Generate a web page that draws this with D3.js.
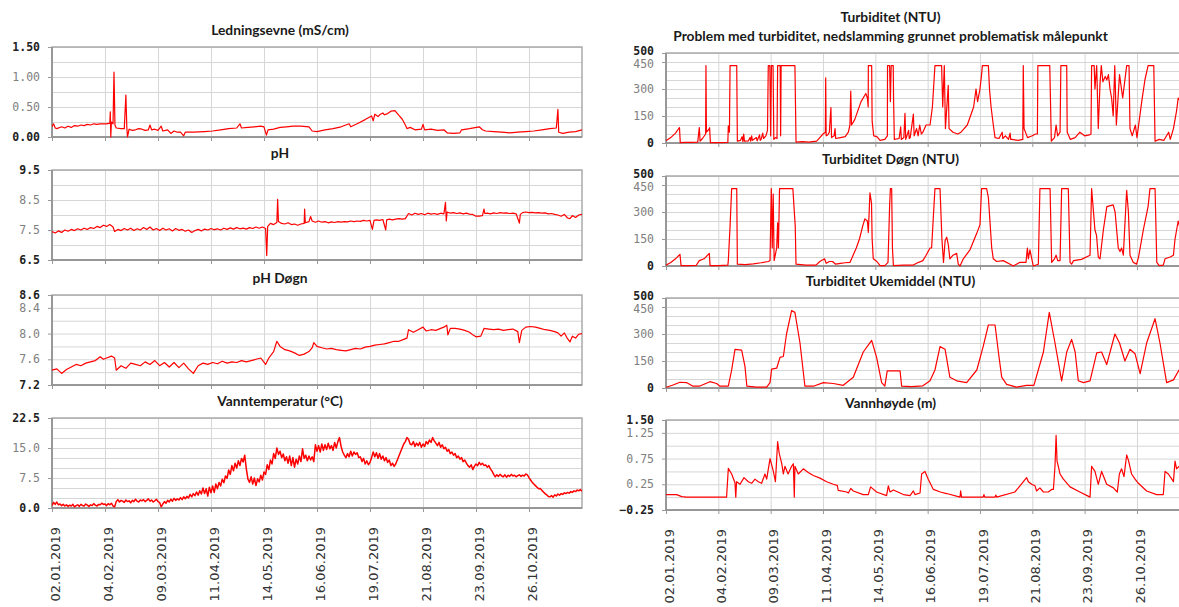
<!DOCTYPE html>
<meta charset="utf-8">
<style>
body { margin: 0; background: #fff; }
svg { display: block; }
.title { font: bold 13.8px Lato, sans-serif; fill: #1a1a1a; text-anchor: middle; }
.grid line { stroke: #d6d6d6; stroke-width: 1px; }
.grid path { stroke: none; }
.ylab text { font-family: "DejaVu Sans Mono", monospace; font-size: 11.5px; fill: #808080; }
.ylab text.end { font-weight: bold; fill: #222; }
.ylab line, .xtick line { stroke: #999; }
.ylab path, .xtick path { stroke: none; }
.dates text { font: 13px "DejaVu Sans", sans-serif; fill: #333; }
.dates line, .dates path { stroke: none; }
.frame { fill: none; stroke: #aaa; stroke-width: 1.5px; }
.axisline { stroke: #8c8c8c; stroke-width: 1.5px; }
.series { fill: none; stroke: #ff0000; stroke-width: 1.2px; stroke-linejoin: round; }
</style>
<body>
<script src="https://cdnjs.cloudflare.com/ajax/libs/d3/7.8.5/d3.min.js"></script>
<script>

// date labels on the x axis (every 33 days from 02.01.2019)
var tickLabels = ["02.01.2019","04.02.2019","09.03.2019","11.04.2019","14.05.2019",
                  "16.06.2019","19.07.2019","21.08.2019","23.09.2019","26.10.2019"];
var lastDay = 330; // days after 02.01.2019 shown at right edge

// y tick labels per chart
var ledTicks  = [0, 0.5, 1.0, 1.5];
var phTicks   = [6.5, 7.5, 8.5, 9.5];
var phDTicks  = [7.2, 7.6, 8.0, 8.4, 8.6];
var tempTicks = [0, 7.5, 15, 22.5];
var turbTicks = [0, 150, 300, 450, 500];
var vhTicks   = [-0.25, 0.25, 0.75, 1.25, 1.5];

// series: [day after 02.01.2019, value]
var ledningsevne = [[0,0.17],[1,0.22],[2,0.15],[3,0.14],[6,0.17],[8,0.15],[10,0.18],[12,0.16],[14,0.19],[16,0.18],[18,0.20],[20,0.19],[22,0.21],[24,0.20],[26,0.22],[28,0.21],[30,0.22],[34,0.22],[36,0.23],[36.3,0.42],[36.6,0.0],[37,0.25],[38,0.22],[38.6,1.08],[39.2,0.20],[40,0.15],[43,0.14],[45,0.14],[46,0.70],[46.6,0.15],[47,0.0],[48,0.13],[50,0.11],[52,0.12],[54,0.14],[56,0.13],[58,0.11],[60,0.12],[61,0.20],[62,0.12],[64,0.13],[66,0.11],[68,0.18],[69,0.10],[72,0.12],[74,0.06],[76,0.10],[78,0.08],[80,0.08],[82,0.02],[83,0.08],[88,0.08],[95,0.09],[100,0.10],[105,0.12],[110,0.14],[115,0.15],[117,0.22],[118,0.15],[122,0.16],[126,0.17],[130,0.18],[132,0.17],[133.5,0.03],[134.5,0.12],[138,0.13],[142,0.16],[146,0.17],[150,0.18],[155,0.18],[160,0.17],[162,0.10],[165,0.09],[170,0.12],[175,0.14],[180,0.17],[185,0.22],[186,0.17],[190,0.22],[195,0.29],[199,0.35],[200,0.27],[201,0.38],[203,0.34],[204,0.37],[206,0.40],[207,0.37],[209,0.39],[211,0.43],[213.5,0.44],[216,0.36],[218,0.30],[220,0.20],[221,0.14],[223,0.16],[226,0.12],[230,0.13],[231,0.21],[232,0.12],[236,0.13],[240,0.11],[244,0.12],[246,0.07],[250,0.06],[254,0.07],[255,0.12],[260,0.14],[266,0.17],[268,0.12],[270,0.10],[275,0.09],[280,0.08],[285,0.07],[290,0.08],[295,0.09],[300,0.10],[305,0.12],[310,0.14],[314,0.15],[315,0.46],[315.5,0.08],[318,0.06],[322,0.08],[326,0.09],[330,0.12]];

var ph = [[0,7.45],[2,7.40],[4,7.47],[6,7.42],[8,7.50],[10,7.46],[12,7.52],[14,7.48],[16,7.54],[18,7.50],[20,7.56],[22,7.52],[24,7.58],[26,7.55],[28,7.62],[30,7.58],[32,7.66],[34,7.62],[36,7.68],[38,7.60],[39,7.45],[41,7.52],[43,7.48],[45,7.55],[47,7.50],[49,7.56],[51,7.48],[53,7.54],[55,7.50],[57,7.58],[59,7.52],[61,7.60],[63,7.50],[65,7.55],[67,7.48],[69,7.56],[71,7.50],[73,7.54],[75,7.47],[77,7.55],[79,7.49],[81,7.52],[83,7.46],[85,7.50],[87,7.42],[89,7.48],[91,7.52],[93,7.47],[95,7.53],[97,7.50],[99,7.55],[101,7.51],[103,7.54],[105,7.50],[107,7.56],[109,7.52],[111,7.57],[113,7.53],[115,7.58],[117,7.54],[119,7.56],[121,7.53],[123,7.58],[125,7.55],[127,7.60],[129,7.56],[131,7.60],[133,7.55],[133.7,6.65],[134.3,7.62],[136,7.72],[138,7.68],[140,7.75],[140.5,8.52],[141,7.78],[143,7.72],[145,7.70],[147,7.74],[149,7.68],[151,7.70],[153,7.66],[155,7.70],[157,7.72],[157.3,8.2],[157.7,7.74],[160,7.78],[161,7.95],[162,7.80],[164,7.76],[166,7.80],[168,7.76],[170,7.78],[172,7.74],[174,7.77],[176,7.75],[178,7.78],[180,7.76],[182,7.78],[184,7.77],[186,7.80],[188,7.78],[190,7.80],[192,7.79],[194,7.82],[196,7.80],[198,7.82],[199.5,7.52],[200.5,7.82],[202,7.84],[204,7.82],[206,7.85],[207.8,7.50],[208.4,7.84],[210,7.86],[212,7.84],[214,7.86],[216,7.88],[218,7.86],[220,7.88],[222,8.05],[224,8.00],[226,8.06],[228,8.02],[230,8.05],[232,8.01],[234,8.06],[236,8.03],[238,8.05],[240,8.02],[242,8.06],[244,8.04],[245,8.42],[245.5,7.80],[246,8.10],[248,8.06],[250,8.08],[252,8.05],[254,8.07],[256,8.04],[258,8.06],[260,8.03],[262,8.02],[264,7.96],[266,7.96],[268,7.98],[269,8.20],[269.5,8.05],[271,8.06],[273,8.04],[275,8.07],[277,8.05],[279,8.08],[281,8.06],[283,8.07],[285,8.05],[287,8.06],[289,8.04],[291,7.73],[291.6,8.02],[293,8.08],[295,8.10],[297,8.08],[299,8.09],[301,8.07],[303,8.08],[305,8.06],[307,8.07],[309,8.04],[311,8.05],[313,8.02],[315,8.00],[317,7.96],[319,8.02],[321,7.90],[322.5,7.88],[324,7.98],[326,7.92],[328,8.00],[330,8.02]];

var phDogn = [[0,7.43],[3,7.45],[6,7.38],[9,7.44],[12,7.48],[15,7.52],[18,7.50],[21,7.54],[24,7.56],[27,7.58],[30,7.64],[32,7.60],[34,7.62],[37,7.65],[39,7.62],[40,7.43],[43,7.50],[46,7.46],[49,7.54],[52,7.52],[55,7.50],[58,7.56],[61,7.52],[64,7.58],[67,7.50],[70,7.55],[73,7.48],[76,7.55],[79,7.47],[82,7.54],[85,7.45],[88,7.38],[91,7.50],[94,7.54],[97,7.52],[100,7.55],[103,7.53],[106,7.57],[109,7.54],[112,7.56],[115,7.55],[118,7.58],[121,7.56],[124,7.58],[127,7.60],[130,7.62],[133,7.52],[135,7.62],[138,7.72],[140,7.88],[142,7.80],[145,7.75],[148,7.73],[151,7.70],[154,7.66],[157,7.68],[160,7.72],[162,7.78],[163,7.86],[165,7.80],[168,7.78],[171,7.76],[174,7.77],[177,7.75],[180,7.74],[183,7.73],[186,7.75],[189,7.77],[192,7.76],[195,7.79],[198,7.80],[201,7.82],[204,7.83],[207,7.84],[210,7.86],[213,7.88],[216,7.88],[219,7.91],[221,7.93],[222,8.06],[225,8.02],[228,8.06],[231,8.10],[233,8.04],[236,8.06],[239,8.05],[242,8.08],[244,8.10],[245.8,8.13],[246.5,7.98],[248,8.08],[251,8.08],[254,8.07],[257,8.05],[260,8.02],[262,7.98],[264,7.95],[267,7.96],[269,8.08],[272,8.07],[275,8.06],[278,8.07],[281,8.05],[284,8.06],[287,8.07],[290,8.03],[291,7.86],[292.5,8.05],[295,8.10],[298,8.11],[301,8.10],[304,8.08],[307,8.06],[310,8.05],[313,8.03],[315,8.01],[317,7.96],[319,8.01],[321,7.92],[322.5,7.87],[324,7.96],[326,7.93],[328,7.99],[330,8.00]];

// water temperature, one value per day from 02.01.2019
var tempDaily = [
  0.6,1.4,0.9,1.5,0.8,1.0,0.6,0.9,0.5,0.8, 0.4,0.7,0.5,0.9,0.3,0.6,0.8,0.4,0.9,0.6,
  0.5,1.0,0.7,0.4,0.8,0.6,1.1,0.7,0.5,0.9, 0.8,1.2,0.9,1.0,0.6,1.1,0.8,1.2,0.5,0.3,
  1.6,2.1,1.5,1.9,1.7,1.4,2.0,1.6,1.8,1.3, 1.9,1.6,2.2,1.7,1.5,2.0,1.8,2.1,1.6,1.9,
  2.3,1.7,2.0,1.5,1.8,2.2,1.6,1.4,0.3,1.0, 1.6,1.2,1.9,1.5,2.2,1.7,2.4,1.9,2.3,2.0,
  2.6,2.1,2.8,2.3,2.9,2.5,3.4,2.8,3.6,3.1, 4.0,3.2,4.3,3.5,5.0,3.6,4.8,3.0,5.2,3.8,
  5.5,3.9,6.0,4.8,6.4,5.5,7.2,6.3,8.0,7.4, 9.5,8.4,10.6,9.3,11.2,10.0,11.8,10.6,12.4,11.5,
  13.2,9.8,7.2,6.4,7.8,6.0,7.5,5.6,7.3,6.5, 8.2,7.0,9.0,8.4,10.8,9.6,12.0,11.0,13.6,12.4,
  15.0,13.4,14.2,12.6,13.5,11.8,12.8,11.2,13.0,10.6, 12.6,10.2,12.2,11.0,13.0,11.6,14.8,12.4,13.2,11.8,
  13.0,12.0,12.8,11.6,15.8,14.2,15.6,14.0,16.0,14.4, 15.8,14.6,16.2,14.8,15.6,14.4,16.4,15.0,16.6,17.6,
  15.4,14.0,13.2,12.6,13.6,12.8,14.2,13.0,14.0,13.4, 13.8,12.6,12.8,11.6,12.4,11.0,11.8,10.8,11.4,12.6,
  14.0,12.8,13.8,12.4,13.6,12.2,13.0,11.8,12.6,11.4, 12.0,10.6,11.2,10.4,11.0,12.0,13.0,14.0,15.0,16.0,
  16.6,17.6,17.2,16.0,15.8,16.6,15.4,16.2,15.6,16.4, 15.2,16.0,15.4,16.6,16.0,17.0,16.4,17.6,16.8,16.2,
  15.6,16.4,15.2,15.8,14.8,15.2,14.2,14.6,13.6,14.0, 13.2,13.6,12.6,13.0,12.2,12.6,11.6,12.0,11.2,10.6,
  10.2,10.8,9.6,10.4,11.0,10.6,11.4,10.8,11.2,10.6, 10.8,10.2,10.6,9.8,9.2,8.4,7.8,8.3,7.9,8.4,
  8.0,7.8,8.3,7.7,8.2,7.9,8.4,8.0,8.2,7.8, 8.1,8.3,7.9,8.2,8.0,8.5,8.3,7.6,7.0,6.4,
  6.0,5.6,5.2,4.8,4.9,4.4,4.0,3.6,3.3,2.9, 2.8,3.1,2.7,3.3,3.0,3.5,3.2,3.6,3.4,3.8,
  3.6,3.9,3.7,4.1,3.9,4.3,4.1,4.5,4.3,4.6, 4.2
];

var turbiditet = [[0,13],[3,30],[6,55],[8.5,86],[9,2],[12,4],[16,3],[20,5],[21,86],[21.5,10],[23,25],[25,50],[25.2,430],[25.5,60],[27,75],[27.5,85],[28,2],[33,2],[39,3],[39.3,95],[40,60],[40.4,430],[44.6,430],[45,10],[47,15],[48,35],[48.5,8],[49,50],[49.5,10],[52,12],[53,30],[53.4,10],[54,40],[54.5,15],[57,30],[57.5,12],[59,45],[59.4,15],[60,20],[61,55],[61.5,25],[63,40],[64,70],[64.5,430],[65.5,430],[66,40],[66.5,430],[67.5,430],[68,20],[69,30],[70,25],[70.4,430],[72,430],[72.3,40],[72.6,430],[81.3,430],[82,5],[86,8],[90,5],[95,10],[97,30],[99,50],[100.5,60],[100.7,362],[101,40],[102,45],[103,60],[104,197],[104.4,30],[106,40],[106.6,80],[107,25],[110,30],[113,35],[115,60],[116,100],[116.5,289],[117,100],[119,130],[121,180],[123,230],[125,260],[126,275],[127,250],[127.5,200],[127.6,430],[129.7,430],[130,120],[131,40],[133,35],[135,15],[138,20],[139.6,40],[139.7,430],[141,430],[141.5,230],[142,430],[143.3,430],[143.5,250],[144,20],[147,25],[148,90],[148.4,20],[150,30],[150.7,165],[151.2,20],[153,70],[153.4,25],[154,30],[156,160],[156.5,40],[158,80],[159,40],[160,100],[161,50],[162,60],[164,100],[166.5,100],[168,200],[169.6,430],[173.8,430],[174.5,200],[175.5,430],[176.2,80],[178,320],[178.5,80],[181,60],[184,50],[186,60],[188,80],[190,100],[192,150],[194,200],[195.5,300],[196.5,230],[198,300],[199,380],[199.5,430],[203.3,430],[204,300],[205,200],[206.4,100],[207.5,30],[210,25],[212,60],[212.4,25],[214,40],[216,20],[217,55],[217.4,20],[218,20],[222,15],[225,20],[225.3,430],[225.8,80],[228,30],[231,40],[233,50],[234.2,50],[234.5,430],[242,430],[243,10],[245,30],[246,100],[247,40],[248.5,60],[249,430],[252.7,430],[253,60],[255,20],[258,30],[261,60],[264,40],[267,45],[268,50],[268.4,430],[270,430],[270.5,300],[271.6,430],[272.6,80],[273.7,330],[274.5,430],[275.5,340],[277,370],[278,350],[279,380],[280,300],[281,250],[282,150],[283,430],[284,100],[286,380],[288,250],[290.5,430],[292,430],[292.6,80],[294,40],[296,100],[297,30],[300,230],[302,350],[304,430],[307.6,430],[308.4,10],[311,20],[314,15],[317,60],[318,20],[320,80],[322,180],[323,250],[325,220],[328,200],[330,250]];

var turbDogn = [[0,4],[3,20],[6,40],[8.8,65],[9.5,2],[14,2],[19,3],[21,30],[24,40],[27.3,70],[27.8,2],[33,2],[39,5],[39.3,30],[40.4,220],[41.4,430],[44.6,430],[45,10],[50,8],[55,12],[60,18],[64.6,25],[65.6,30],[66.4,430],[67,100],[67.6,400],[68.2,30],[69.8,100],[70.4,240],[70.9,100],[71.6,430],[80,430],[81.5,220],[82,10],[88,5],[94.6,5],[97,25],[100,40],[101,15],[103,25],[105,25],[107,10],[110,15],[113,18],[116,20],[118,60],[120,100],[122,150],[124,220],[125.4,262],[127,250],[127.6,187],[128.6,406],[129.6,350],[130,150],[130.7,40],[133,25],[135,2],[138,2],[140,20],[141,330],[141.5,430],[142.3,430],[142.8,100],[143.4,2],[150,5],[156,5],[158,15],[162,30],[164,60],[166.5,100],[167.5,100],[169.6,430],[172.8,430],[174,150],[175,20],[176,140],[177,160],[178,120],[179,40],[181,60],[183.3,70],[184.3,10],[185.4,0],[187.5,40],[191.7,90],[195.9,180],[198,230],[199,430],[202.2,430],[203.3,380],[205.4,100],[206.4,40],[208.5,25],[212.7,30],[217,10],[219,0],[223,20],[227,20],[227.9,100],[228.5,40],[229.5,90],[231.6,0],[234.8,10],[235.8,430],[242.2,430],[243.2,20],[245,40],[246,60],[247,30],[248.5,30],[249.5,430],[253.7,430],[254.8,20],[255.8,10],[257,30],[262,37],[267.4,60],[268.4,430],[270.5,200],[271.5,170],[272.6,50],[273.7,40],[275.8,200],[278,330],[282,340],[283.2,300],[284.2,200],[285.2,100],[286.3,80],[287.3,100],[288.4,60],[290.5,420],[291.6,300],[292.6,60],[294.7,20],[296.8,10],[298,50],[301,200],[304,330],[305.2,430],[308.4,430],[309.5,20],[311,2],[313.6,5],[314.7,40],[318,50],[320,60],[321,150],[323,250],[326,150],[330,160]];

var turbUke = [[0,4],[4,15],[8.8,32],[12.9,30],[17,10],[21,10],[27.7,35],[31.9,25],[34,10],[39.3,10],[41.4,100],[43.5,215],[47.7,210],[49.8,120],[51,10],[57,5],[63.5,5],[65.6,30],[66.6,105],[69.8,110],[71.9,170],[74,175],[76,300],[79.2,430],[81.3,420],[84.5,250],[87.6,10],[93,10],[99.2,30],[105.5,25],[111.8,15],[118.1,60],[124.4,200],[129.7,265],[132.8,170],[136,30],[138,10],[139.5,95],[147.6,95],[148.6,10],[155,8],[162,12],[166.5,40],[169.6,100],[172.8,230],[176,215],[179,60],[183.3,40],[189.6,30],[196,100],[200,230],[203.3,350],[207.5,350],[209.6,200],[211.7,60],[214.8,20],[221,5],[227.4,15],[232,15],[238,200],[241.7,420],[245.3,250],[249.5,40],[252.7,200],[255.8,270],[258,200],[260,40],[263.2,30],[267.4,40],[271.6,195],[274.7,200],[277.9,130],[283.1,300],[286,250],[289.4,150],[292.6,215],[295.8,190],[299,80],[303.1,250],[308.4,385],[311.5,250],[315.7,30],[320,45],[323.5,100],[327,110],[330,120]];

var vannhoyde = [[0,0.05],[6.7,0.05],[9.9,0.01],[13,0],[38.2,0],[39.3,0.56],[41.4,0.45],[43.5,0.28],[44,0],[44.5,0.3],[46.7,0.25],[49.2,0.38],[51.9,0.3],[54,0.27],[56.1,0.35],[58.2,0.3],[60.3,0.27],[62.4,0.45],[63.5,0.35],[65.6,0.75],[67.7,0.5],[69,0.3],[70.4,1.08],[71.4,0.85],[73,0.65],[74,0.45],[75,0.6],[77,0.45],[79.2,0.6],[80.3,0.65],[80.9,0],[81.3,0.6],[83.4,0.45],[86.6,0.55],[89.7,0.48],[92.9,0.42],[97.1,0.37],[101.3,0.3],[105.5,0.25],[108,0.23],[108.6,0.13],[114,0.1],[115,0.08],[116.5,0.17],[118.1,0.12],[124.4,0.05],[127.6,0.05],[129,0.2],[132.8,0.1],[139.1,0.03],[140.2,0.22],[141.3,0.1],[143.4,0.14],[149.7,0.05],[153.9,0.03],[156,0.12],[157,0.05],[160.2,0.08],[161.2,0.45],[163.3,0.5],[165.4,0.35],[168.6,0.15],[173,0.1],[177,0.07],[185.4,0],[185.8,0.12],[186.4,0],[200,0],[200.5,0.05],[201,0],[207.5,0],[208,0.04],[208.5,0],[220,0.1],[222.2,0.18],[227.4,0.38],[228.5,0.3],[230.6,0.25],[232.7,0.22],[233.7,0.12],[235.8,0.18],[238,0.1],[241.1,0.1],[243.2,0.15],[244.3,0.15],[245.3,0.6],[246,1.2],[246.6,0.7],[247.4,0.6],[248.5,0.45],[250.6,0.35],[254.8,0.2],[261,0.1],[267.4,0],[268.4,0.6],[270.5,0.5],[272.6,0.25],[274.7,0.5],[277.9,0.25],[282.1,0.18],[284.6,0.1],[285.9,0.45],[287.3,0.55],[288.8,0.4],[290.5,0.82],[291.6,0.72],[293.6,0.45],[295.8,0.35],[297.9,0.27],[303.1,0.12],[309.4,0.05],[313.6,0.05],[314.7,0.5],[316.8,0.45],[319,0.35],[320,0.3],[321,0.7],[322,0.55],[323.5,0.6],[326,0.55],[328,0.7],[330,0.75]];

// layout
var W = 1179, H = 607;
var cols = [
  {left: 52,  width: 530,   titleX: 280},
  {left: 666, width: 523.3, titleX: 890.5}
];
var plotH = 90;

var parseDay = d3.utcParse("%d.%m.%Y");
var start = parseDay(tickLabels[0]);
function dt(d) { return new Date(start.getTime() + d * 864e5); }
var tickDates = tickLabels.map(parseDay);

var panels = [
  {col: 0, top: 47,  title: ["Ledningsevne (mS/cm)"], data: ledningsevne, ticks: ledTicks, step: 0.25, fmt: ".2f"},
  {col: 0, top: 170, title: ["pH"], data: ph, ticks: phTicks, step: 0.5, fmt: ".1f"},
  {col: 0, top: 295, title: ["pH Døgn"], data: phDogn, ticks: phDTicks, step: 0.2, fmt: ".1f"},
  {col: 0, top: 418, title: ["Vanntemperatur (°C)"], data: tempDaily.map(function(v, i) { return [i, v]; }), ticks: tempTicks, step: 2.5, fmt: ".1f", dates: true, sw: 1.5},
  {col: 1, top: 53,  title: ["Turbiditet (NTU)", "Problem med turbiditet, nedslamming grunnet problematisk målepunkt"], data: turbiditet, ticks: turbTicks, step: 50, fmt: "d"},
  {col: 1, top: 176, title: ["Turbiditet Døgn (NTU)"], data: turbDogn, ticks: turbTicks, step: 50, fmt: "d"},
  {col: 1, top: 298, title: ["Turbiditet Ukemiddel (NTU)"], data: turbUke, ticks: turbTicks, step: 50, fmt: "d"},
  {col: 1, top: 420, title: ["Vannhøyde (m)"], data: vannhoyde, ticks: vhTicks, step: 0.25, fmt: ".2f", dates: true}
];

var svg = d3.select("body").append("svg")
    .attr("width", W)
    .attr("height", H);

panels.forEach(function(p, pi) {
  var c = cols[p.col];
  var w = c.width, h = plotH;
  var lo = p.ticks[0], hi = p.ticks[p.ticks.length - 1];

  var x = d3.scaleUtc().domain([dt(0), dt(lastDay)]).range([0, w]);
  var y = d3.scaleLinear().domain([lo, hi]).range([h, 0]);

  // titles
  p.title.forEach(function(t, i) {
    svg.append("text")
      .attr("class", "title")
      .attr("x", c.titleX)
      .attr("y", p.top - 12 - (p.title.length - 1 - i) * 19)
      .text(t);
  });

  var g = svg.append("g")
      .attr("transform", "translate(" + c.left + "," + p.top + ")");

  // horizontal grid
  g.append("g")
      .attr("class", "grid")
      .call(d3.axisLeft(y)
        .tickValues(d3.range(lo, hi + 1e-9, p.step))
        .tickSize(-w).tickFormat(""));

  // vertical grid
  g.append("g")
      .attr("class", "grid")
      .attr("transform", "translate(0," + h + ")")
      .call(d3.axisBottom(x).tickValues(tickDates).tickSize(-h).tickFormat(""));

  // short ticks below the plot
  g.append("g")
      .attr("class", "xtick")
      .attr("transform", "translate(0," + h + ")")
      .call(d3.axisBottom(x).tickValues(tickDates).tickSize(4).tickFormat(""));

  g.append("rect")
      .attr("class", "frame")
      .attr("width", w)
      .attr("height", h);
  g.append("line").attr("class", "axisline").attr("x1", 0).attr("x2", 0).attr("y1", 0).attr("y2", h);
  g.append("line").attr("class", "axisline").attr("x1", 0).attr("x2", w).attr("y1", h).attr("y2", h);

  // y labels; the top two sit close together in some charts
  var f = d3.format(p.fmt);
  var second = p.ticks[p.ticks.length - 2];
  var tight = (y(second) - y(hi)) < 12;
  var ya = g.append("g")
      .attr("class", "ylab")
      .call(d3.axisLeft(y).tickValues(p.ticks).tickSize(4).tickPadding(8).tickFormat(f));
  ya.selectAll("text")
      .classed("end", function(d) { return d === lo || d === hi; })
      .attr("y", function(d) {
        if (!tight) return 0;
        if (d === hi) return -2.5;
        if (d === second) return 1.5;
        return 0;
      });

  // data line
  var clipId = "clip" + pi;
  g.append("clipPath").attr("id", clipId)
    .append("rect").attr("y", -2).attr("width", w).attr("height", h + 4);

  var line = d3.line()
      .x(function(d) { return x(dt(d[0])); })
      .y(function(d) { return y(d[1]); });

  g.append("path")
      .datum(p.data)
      .attr("class", "series")
      .attr("clip-path", "url(#" + clipId + ")")
      .style("stroke-width", p.sw ? p.sw + "px" : null)
      .attr("d", line);

  // rotated date labels
  if (p.dates) {
    var da = g.append("g")
        .attr("class", "dates")
        .attr("transform", "translate(0," + h + ")")
        .call(d3.axisBottom(x).tickValues(tickDates).tickSize(0)
          .tickFormat(d3.utcFormat("%d.%m.%Y")));
    da.selectAll("text")
        .attr("transform", "rotate(-90)")
        .attr("x", -19)
        .attr("y", 0)
        .attr("dy", "0.55em")
        .style("text-anchor", "end");
  }
});

</script>
</body>
